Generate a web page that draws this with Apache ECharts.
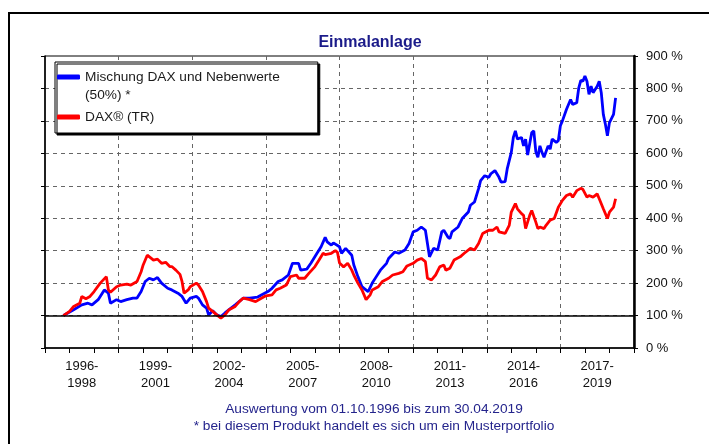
<!DOCTYPE html>
<html>
<head>
<meta charset="utf-8">
<script src="https://cdn.jsdelivr.net/npm/echarts@6/dist/echarts.min.js"></script>
<style>
  html, body { margin: 0; padding: 0; background: #fff; overflow: hidden; }
  #chart { width: 709px; height: 444px; }
</style>
</head>
<body>
<div id="chart"></div>
<script>
// x-axis period labels (one per 3-year block)
const periodLabels = ['1996-\n1998', '1999-\n2001', '2002-\n2004', '2005-\n2007',
  '2008-\n2010', '2011-\n2013', '2014-\n2016', '2017-\n2019']

const mischungName = 'Mischung DAX und Nebenwerte (50%) *'
const daxName = 'DAX® (TR)'

// Mischung DAX und Nebenwerte (50%), in % of start value
const mischungMonths = [
  '1996-10', '1997-03', '1997-07', '1997-10', '1997-12', '1998-03', '1998-06', '1998-08', '1998-09', '1998-12',
  '1999-02', '1999-05', '1999-08', '1999-10', '1999-12', '2000-02', '2000-04', '2000-06', '2000-08', '2000-10',
  '2001-01', '2001-03', '2001-06', '2001-08', '2001-10', '2001-12', '2002-03', '2002-04', '2002-06', '2002-08',
  '2002-09', '2002-11', '2003-01', '2003-03', '2003-05', '2003-07', '2003-10', '2004-02', '2004-05', '2004-09',
  '2004-11', '2005-02', '2005-04', '2005-07', '2005-09', '2005-12', '2006-02', '2006-05', '2006-06', '2006-09',
  '2006-11', '2007-02', '2007-04', '2007-06', '2007-07', '2007-09', '2007-10', '2008-01', '2008-02', '2008-04',
  '2008-07', '2008-08', '2008-10', '2008-12', '2009-01', '2009-03', '2009-05', '2009-07', '2009-09', '2009-12',
  '2010-01', '2010-04', '2010-06', '2010-09', '2010-11', '2011-01', '2011-03', '2011-05', '2011-07', '2011-08',
  '2011-09', '2011-11', '2012-01', '2012-02', '2012-03', '2012-04', '2012-06', '2012-07', '2012-08', '2012-11',
  '2013-01', '2013-04', '2013-05', '2013-07', '2013-09', '2013-10', '2013-12', '2014-02', '2014-03', '2014-05',
  '2014-07', '2014-08', '2014-10', '2014-11', '2015-01', '2015-02', '2015-03', '2015-04', '2015-06', '2015-07',
  '2015-08', '2015-09', '2015-11', '2015-12', '2016-01', '2016-02', '2016-03', '2016-04', '2016-05', '2016-07',
  '2016-08', '2016-09', '2016-11', '2016-12', '2017-01', '2017-02', '2017-04', '2017-06', '2017-07', '2017-09',
  '2017-10', '2017-11', '2017-12', '2018-01', '2018-02', '2018-03', '2018-04', '2018-05', '2018-07', '2018-08',
  '2018-09', '2018-10', '2018-11', '2018-12', '2019-01', '2019-03', '2019-04'
]
const mischungValues = [
  100, 118, 133, 138, 133, 149, 179, 169, 138, 149,
  143, 149, 154, 154, 174, 205, 215, 210, 217, 200,
  184, 179, 169, 159, 138, 154, 159, 154, 133, 123,
  102, 115, 102, 97, 108, 118, 133, 154, 154, 157,
  164, 174, 184, 205, 210, 225, 261, 261, 240, 243,
  261, 292, 312, 341, 327, 317, 324, 312, 292, 307,
  286, 256, 220, 189, 184, 174, 200, 220, 240, 261,
  276, 296, 292, 302, 322, 358, 363, 373, 363, 322,
  281, 307, 302, 330, 358, 363, 342, 337, 358, 373,
  399, 419, 440, 450, 491, 516, 531, 526, 537, 547,
  526, 511, 513, 552, 603, 649, 669, 644, 649, 623,
  644, 595, 664, 669, 605, 588, 623, 603, 588, 623,
  613, 644, 634, 639, 685, 700, 736, 766, 751, 756,
  802, 825, 822, 838, 822, 782, 807, 787, 807, 822,
  787, 720, 690, 654, 695, 720, 771
]

// DAX (TR), in % of start value
const daxMonths = [
  '1996-10', '1997-01', '1997-03', '1997-06', '1997-07', '1997-09', '1997-11', '1998-01', '1998-04', '1998-07',
  '1998-08', '1998-09', '1998-12', '1999-02', '1999-05', '1999-07', '1999-10', '1999-12', '2000-01', '2000-03',
  '2000-05', '2000-06', '2000-08', '2000-10', '2000-12', '2001-02', '2001-03', '2001-05', '2001-07', '2001-08',
  '2001-09', '2001-11', '2001-12', '2002-03', '2002-04', '2002-06', '2002-08', '2002-09', '2002-11', '2003-01',
  '2003-03', '2003-05', '2003-07', '2003-10', '2003-12', '2004-02', '2004-05', '2004-08', '2004-11', '2005-01',
  '2005-04', '2005-06', '2005-08', '2005-11', '2006-01', '2006-04', '2006-05', '2006-08', '2006-10', '2007-01',
  '2007-03', '2007-05', '2007-06', '2007-09', '2007-11', '2007-12', '2008-01', '2008-03', '2008-05', '2008-07',
  '2008-08', '2008-10', '2008-12', '2009-02', '2009-04', '2009-05', '2009-08', '2009-10', '2010-01', '2010-03',
  '2010-06', '2010-08', '2010-10', '2011-01', '2011-03', '2011-05', '2011-07', '2011-08', '2011-10', '2011-12',
  '2012-02', '2012-04', '2012-05', '2012-07', '2012-09', '2012-12', '2013-02', '2013-05', '2013-07', '2013-09',
  '2013-11', '2014-02', '2014-04', '2014-06', '2014-07', '2014-10', '2014-12', '2015-01', '2015-03', '2015-04',
  '2015-06', '2015-07', '2015-08', '2015-10', '2015-11', '2016-01', '2016-02', '2016-03', '2016-05', '2016-06',
  '2016-08', '2016-10', '2016-12', '2017-02', '2017-04', '2017-06', '2017-07', '2017-09', '2017-11', '2017-12',
  '2018-02', '2018-03', '2018-05', '2018-07', '2018-08', '2018-10', '2018-12', '2019-01', '2019-03', '2019-04'
]
const daxValues = [
  100, 113, 128, 138, 159, 152, 159, 174, 200, 220,
  179, 172, 189, 194, 197, 194, 205, 235, 256, 286,
  276, 271, 274, 261, 264, 251, 251, 240, 227, 205,
  169, 179, 189, 200, 194, 174, 143, 123, 113, 102,
  92, 102, 118, 128, 143, 154, 149, 143, 154, 161,
  164, 179, 184, 194, 220, 225, 215, 215, 230, 251,
  271, 292, 288, 292, 300, 295, 262, 250, 261, 240,
  225, 200, 179, 149, 164, 179, 189, 205, 215, 225,
  230, 235, 253, 261, 271, 276, 266, 215, 210, 225,
  250, 256, 240, 246, 271, 281, 292, 307, 302, 322,
  353, 363, 363, 373, 358, 353, 378, 419, 445, 429,
  414, 409, 368, 409, 424, 388, 368, 373, 368, 378,
  394, 399, 434, 455, 470, 475, 465, 485, 492, 489,
  465, 470, 465, 475, 460, 429, 399, 419, 434, 460
]

const fontFamily = '"Liberation Sans", Arial, sans-serif'

function toYear(s) {
  const [y, m] = s.split('-').map(Number)
  return y + (m - 1) / 12
}

const chart = echarts.init(document.getElementById('chart'), null, { renderer: 'canvas' })

const option = {
  animation: false,
  backgroundColor: '#fff',
  title: [
    {
      text: 'Einmalanlage',
      left: 370,
      top: 35,
      padding: 0,
      textAlign: 'center',
      textStyle: { fontFamily, fontSize: 16, fontWeight: 'bold', color: '#1b1b8a' }
    },
    {
      text: 'Auswertung vom 01.10.1996 bis zum 30.04.2019\n* bei diesem Produkt handelt es sich um ein Musterportfolio',
      left: 374,
      top: 401,
      padding: 0,
      textAlign: 'center',
      textStyle: { fontFamily, fontSize: 13.7, fontWeight: 'normal', color: '#24248c', lineHeight: 17 }
    }
  ],
  graphic: [
    {
      type: 'rect',
      silent: true,
      z: -10,
      shape: { x: 9, y: 13, width: 760, height: 500 },
      style: { fill: 'none', stroke: '#000', lineWidth: 2 }
    }
  ],
  legend: {
    left: 55,
    top: 62,
    orient: 'vertical',
    itemWidth: 23,
    itemHeight: 5,
    itemGap: 4,
    // first text line of the two-line entry is kept level with its icon by a leading blank line,
    // whose height is taken back by the negative top padding
    padding: [-12, 38, 7, 2],
    backgroundColor: '#fff',
    borderColor: '#000',
    borderWidth: 1,
    shadowColor: '#000',
    shadowBlur: 0,
    shadowOffsetX: 2,
    shadowOffsetY: 2,
    selectedMode: false,
    textStyle: { fontFamily, fontSize: 13.7, color: '#1a1a1a', lineHeight: 18 },
    formatter: name => name === mischungName ? '\nMischung DAX und Nebenwerte\n(50%) *' : name,
    data: [
      { name: mischungName, icon: 'roundRect' },
      { name: daxName, icon: 'roundRect' }
    ]
  },
  grid: {
    left: 45,
    top: 56,
    width: 589,
    height: 292,
    show: true,
    borderColor: '#000',
    borderWidth: 1,
    outerBoundsMode: 'none'
  },
  xAxis: [
    {
      type: 'value',
      min: 1996,
      max: 2020,
      interval: 3,
      position: 'bottom',
      axisLine: { show: true, lineStyle: { color: '#000', width: 1.5 } },
      axisTick: { show: true, length: 5, lineStyle: { color: '#000' } },
      minorTick: { show: true, splitNumber: 3, length: 5, lineStyle: { color: '#000' } },
      axisLabel: { show: false },
      splitLine: {
        show: true,
        showMinLine: false,
        showMaxLine: false,
        lineStyle: { color: '#666', type: [4, 4], width: 1 }
      }
    },
    {
      type: 'category',
      data: periodLabels,
      position: 'bottom',
      boundaryGap: true,
      axisLine: { show: false },
      axisTick: { show: false },
      splitLine: { show: false },
      axisLabel: { margin: 10, fontFamily, fontSize: 13, color: '#111', lineHeight: 17, interval: 0 }
    }
  ],
  yAxis: [
    {
      type: 'value',
      position: 'right',
      min: 0,
      max: 900,
      interval: 100,
      axisLine: { show: true, lineStyle: { color: '#000', width: 2.5 } },
      axisTick: { show: true, length: 4, lineStyle: { color: '#000' } },
      axisLabel: { margin: 12, formatter: '{value} %', fontFamily, fontSize: 13, color: '#111' },
      splitLine: {
        show: true,
        showMinLine: false,
        showMaxLine: false,
        lineStyle: { color: '#666', type: [4, 4], width: 1 }
      }
    },
    {
      type: 'value',
      position: 'left',
      min: 0,
      max: 900,
      interval: 100,
      axisLine: { show: true, lineStyle: { color: '#000', width: 1.5 } },
      axisTick: { show: true, length: 4, lineStyle: { color: '#000' } },
      axisLabel: { show: false },
      splitLine: { show: false }
    }
  ],
  series: [
    {
      name: mischungName,
      type: 'line',
      xAxisIndex: 0,
      yAxisIndex: 0,
      showSymbol: false,
      color: '#0000ff',
      lineStyle: { color: '#0000ff', width: 2.8 },
      data: mischungMonths.map((m, i) => [toYear(m), mischungValues[i]]),
      markLine: {
        silent: true,
        symbol: 'none',
        label: { show: false },
        lineStyle: { color: '#000', type: 'solid', width: 1.5 },
        data: [{ yAxis: 100 }]
      }
    },
    {
      name: daxName,
      type: 'line',
      xAxisIndex: 0,
      yAxisIndex: 0,
      showSymbol: false,
      color: '#ff0000',
      lineStyle: { color: '#ff0000', width: 2.8 },
      data: daxMonths.map((m, i) => [toYear(m), daxValues[i]])
    }
  ]
}

chart.setOption(option)
</script>
</body>
</html>
